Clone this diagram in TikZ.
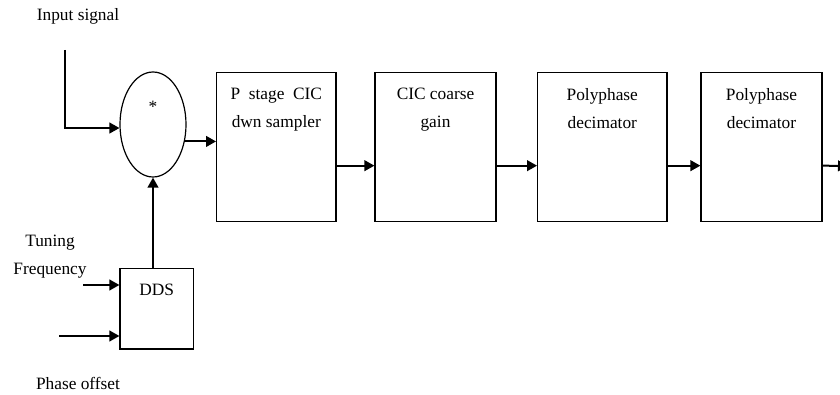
\documentclass[tikz,border=0pt]{standalone}
\usepackage{fontspec}
\setmainfont{Liberation Serif}
\usetikzlibrary{shapes.geometric, arrows.meta, positioning}
\tikzset{
  stage/.style={rectangle, draw, line width=0.9pt, inner sep=0pt, minimum height=111.75pt},
  stagetxt/.style={anchor=north, inner sep=0pt, yshift=-12pt, align=center},
  mixer/.style={ellipse, draw, line width=0.9pt, inner sep=0pt, minimum width=49.5pt, minimum height=78.75pt},
  sig/.style={-{Triangle[length=7.5pt, width=8pt]}, line width=1.5pt},
}

\begin{document}
\begin{tikzpicture}[x=0.75pt, y=-0.75pt, every node/.style={font=\fontsize{13}{21}\selectfont}]
  \useasboundingbox (0,0) rectangle (840,395);

  % Mixer and DDS
  \node[mixer] (mix) at (153,124.5) {};
  \node[anchor=base, inner sep=0pt] (mixlbl) at (153,113) {*};
  \node[stage, minimum width=55pt, minimum height=60.5pt] (dds) at (156.7,308.7) {};
  \node[stagetxt] (ddslbl) at (dds.north) {DDS};

  % Decimation chain
  \node[stage, minimum width=89.5pt] (cic) at (276.3,147) {};
  \node[stagetxt] (ciclbl) at (cic.north) {P\ \ stage\ \ CIC\\dwn sampler};
  \node[stage, minimum width=90.75pt] (gain) at (435.5,147) {};
  \node[stagetxt] (gainlbl) at (gain.north) {CIC coarse\\gain};
  \node[stage, minimum width=97pt] (poly1) at (602.3,147) {};
  \node[stagetxt] (poly1lbl) at (poly1.north) {Polyphase\\decimator};
  \node[stage, minimum width=90.75pt] (poly2) at (761.5,147) {};
  \node[stagetxt] (poly2lbl) at (poly2.north) {Polyphase\\decimator};

  % Inputs
  \node (inlbl) at (78,16) {Input signal};
  \node[align=center] (tunlbl) at (50,257) {Tuning\\Frequency};
  \node (phlbl) at (78,383) {Phase offset};
  \coordinate (insig) at (65,50);
  \coordinate (tunin) at (83,285);
  \coordinate (phin) at (59,336);
  \coordinate (outsig) at (848,166);

  % Connectors
  \draw[sig] (insig) |- (mix.186);
  \draw[sig] (mix.-28) -- (mix.-28 -| cic.west);
  \draw[sig] (mix.south |- dds.north) -- (mix.south);
  \draw[sig] (tunin) -- (tunin -| dds.west);
  \draw[sig] (phin) -- (phin -| dds.west);
  \draw[sig] ([yshift=-14pt]cic.east) -- ([yshift=-14pt]gain.west);
  \draw[sig] ([yshift=-14pt]gain.east) -- ([yshift=-14pt]poly1.west);
  \draw[sig] ([yshift=-14pt]poly1.east) -- ([yshift=-14pt]poly2.west);
  \draw[sig] ([yshift=-14pt]poly2.east) -- (outsig);
\end{tikzpicture}
\end{document}
